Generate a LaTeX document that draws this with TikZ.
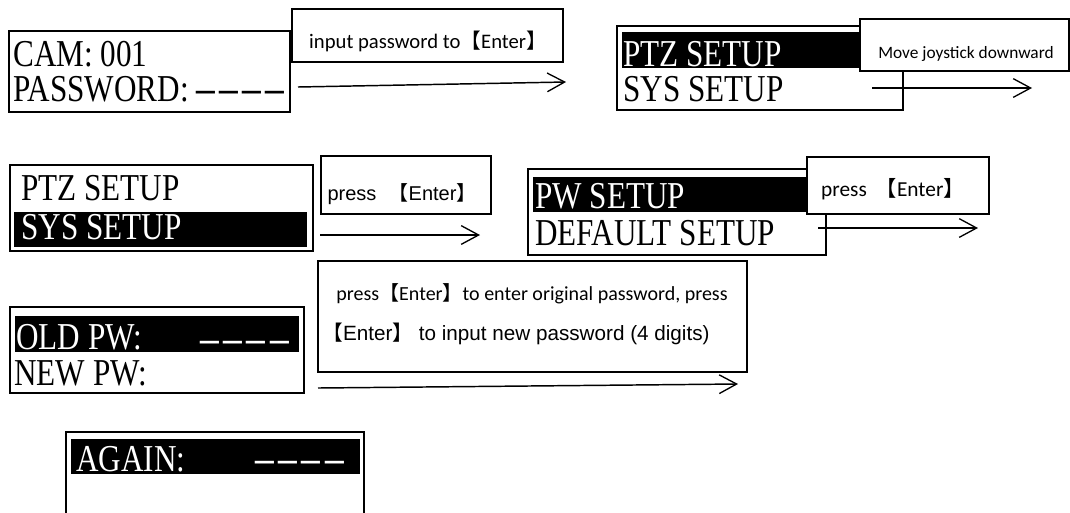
\documentclass[tikz,border=0pt]{standalone}
\usepackage{fontspec}
\setmainfont{Liberation Serif}
\newfontfamily\lcdfont{Liberation Serif}
\newfontfamily\calfont{Carlito}
\newfontfamily\arifont{Liberation Sans}
\newfontfamily\cjkfont{Noto Sans CJK SC}
\usetikzlibrary{arrows.meta}
\newcommand\LB{{\cjkfont 【}}
\newcommand\RB{{\cjkfont 】}}
\newcommand\lcdtxt[1]{\scalebox{0.82}[1]{\lcdfont\fontsize{28.5}{28.5}\selectfont #1}}
\newcommand\onedash{\scalebox{1.2}[1]{\bfseries –}}
\newcommand\dashes{\onedash\hspace{4pt}\onedash\hspace{4pt}\onedash\hspace{4pt}\onedash}
\newcommand\pxbox[6]{%
  \pgfmathsetmacro\pxbw{(#5-#3)*0.75}%
  \pgfmathsetmacro\pxbh{(#6-#4)*0.75}%
  \node[#2, minimum width=\pxbw pt, minimum height=\pxbh pt, inner sep=0pt, outer sep=0pt] (#1) at ({(#3+#5)/2},{(#4+#6)/2}) {};}
\tikzset{
  lcdbox/.style={draw=black, line width=1.5pt, fill=white},
  bar/.style={fill=black, draw=none},
  lbl/.style={draw=black, line width=0.8pt, fill=white},
  flow/.style={-{Straight Barb[length=13pt,width=14pt,line width=1pt]}, line width=1.1pt},
  lcd/.style={inner sep=0pt, anchor=base west, text height=19pt, text depth=0pt},
  lcdw/.style={lcd, text=white},
  lcdd/.style={inner sep=0pt, anchor=base east, text=white, text height=19pt, text depth=0pt},
  cal/.style={inner sep=0pt, anchor=base, font=\calfont},
  ari/.style={inner sep=0pt, anchor=base, font=\arifont},
}
\begin{document}
\begin{tikzpicture}[x=0.75pt,y=-0.75pt]
\useasboundingbox (0,0) rectangle (1070,512);
% ---------- LCD screens ----------
\pxbox{b1}{lcdbox}{9}{31}{290}{112}
\node[lcd] (b1a) at (13,66) {\lcdtxt{CAM: 001}};
\node[lcd] (b1b) at (13,101) {\lcdtxt{PASSWORD: \dashes}};

\pxbox{b2}{lcdbox}{617}{26}{903}{110}
\pxbox{b2bar}{bar}{622}{32}{899}{68}
\node[lcdw] (b2a) at (623,66) {\lcdtxt{PTZ SETUP}};
\node[lcd] (b2b) at (623,101) {\lcdtxt{SYS SETUP}};

\pxbox{b3}{lcdbox}{10}{165}{313}{251}
\pxbox{b3bar}{bar}{14}{212}{307}{247}
\node[lcd] (b3a) at (21,200) {\lcdtxt{PTZ SETUP}};
\node[lcdw] (b3b) at (21,239) {\lcdtxt{SYS SETUP}};

\pxbox{b4}{lcdbox}{528}{169}{826}{255}
\pxbox{b4bar}{bar}{533}{177}{821}{212}
\node[lcdw] (b4a) at (535,208) {\lcdtxt{PW SETUP}};
\node[lcd] (b4b) at (535,245) {\lcdtxt{DEFAULT SETUP}};

\pxbox{b5}{lcdbox}{10}{307}{304}{393}
\pxbox{b5bar}{bar}{15}{316}{299}{352}
\node[lcdw] (b5a) at (16,349) {\lcdtxt{OLD PW:}};
\node[lcdd] (b5d) at (289,351) {\lcdtxt{\dashes}};
\node[lcd] (b5b) at (14,385) {\lcdtxt{NEW PW:}};

\draw[line width=1.5pt] (66,513) -- (66,432) -- (364,432) -- (364,513);
\pxbox{b6bar}{bar}{71}{439}{360}{474}
\node[lcdw] (b6a) at (76,471) {\lcdtxt{AGAIN:}};
\node[lcdd] (b6d) at (344,471) {\lcdtxt{\dashes}};

% ---------- instruction boxes ----------
\pxbox{l1}{lbl}{292}{9}{563}{62}
\node[cal, font=\calfont\fontsize{15.5}{19}\selectfont] (t1) at (428,48) {input password to\LB Enter\RB};

\pxbox{l2}{lbl}{860}{19}{1069}{71}
\node[cal, font=\calfont\fontsize{13}{16}\selectfont] (t2) at (966,58) {Move joystick downward};

\pxbox{l3}{lbl}{321}{156}{491}{214}
\node[ari, font=\arifont\fontsize{15}{18}\selectfont] (t3) at (402,200) {press\hspace{5pt} \LB Enter\RB};

\pxbox{l4}{lbl}{807}{157}{989}{214}
\node[cal, font=\calfont\fontsize{16}{19}\selectfont] (t4) at (893,196) {press\hspace{3pt} \LB Enter\RB};

\pxbox{l5}{lbl}{318}{261}{747}{372}
\node[cal, font=\calfont\fontsize{15}{18}\selectfont] (t5a) at (532,300) {press\LB Enter\RB to enter original password, press};
\node[ari, font=\arifont\fontsize{15.5}{18}\selectfont] (t5b) at (516,340) {\LB Enter\RB\ to input new password (4 digits)};

% ---------- arrows ----------
\coordinate (a1s) at (298,87);  \coordinate (a1e) at (566,82);
\coordinate (a2s) at (872,88);  \coordinate (a2e) at (1032,88);
\coordinate (a3s) at (320,235); \coordinate (a3e) at (480,235);
\coordinate (a4s) at (818,228); \coordinate (a4e) at (978,228);
\coordinate (a5s) at (318,388); \coordinate (a5e) at (738,384);
\draw[flow] (a1s) -- (a1e);
\draw[flow] (a2s) -- (a2e);
\draw[flow] (a3s) -- (a3e);
\draw[flow] (a4s) -- (a4e);
\draw[flow] (a5s) -- (a5e);
\end{tikzpicture}
\end{document}
